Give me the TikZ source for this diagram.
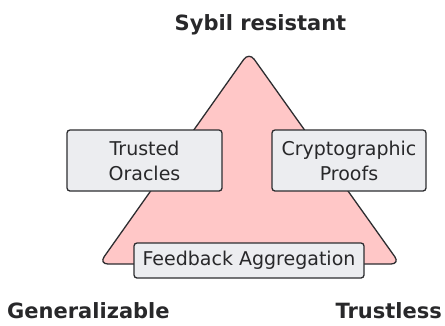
\documentclass[tikz,border=0pt]{standalone}
\usepackage{fontspec}
\setmainfont{DejaVu Sans}
\definecolor{tripink}{RGB}{255,199,199}
\definecolor{boxfill}{RGB}{236,237,240}
\definecolor{edge}{RGB}{45,45,48}
\definecolor{ink}{RGB}{40,40,42}
\begin{document}
\begin{tikzpicture}[x=1pt,y=-1pt,
  box/.style={draw=edge,fill=boxfill,line width=1.3pt,rounded corners=3pt,
    text=ink,font=\fontsize{19}{25}\selectfont,align=center,inner sep=0pt},
  corner/.style={font=\bfseries\fontsize{21}{25}\selectfont,text=ink,inner sep=0pt}]
\useasboundingbox (0,0) rectangle (445,325);
\draw[fill=tripink,draw=edge,line width=1.3pt,rounded corners=9pt]
  (249,52) -- (400,264) -- (99,264) -- cycle;
\node[box,minimum width=155pt,minimum height=61pt] (oracles) at (144.5,160.5) {Trusted\\Oracles};
\node[box,minimum width=154pt,minimum height=61pt] (proofs) at (349,160.5) {Cryptographic\\Proofs};
\node[box,minimum width=230pt,minimum height=35pt] (feedback) at (249,260.5) {Feedback Aggregation};
\node[corner,anchor=base] (sybil) at (260.5,30) {Sybil resistant};
\node[corner,anchor=base west] (general) at (7,318) {Generalizable};
\node[corner,anchor=base east] (trustless) at (442,318) {Trustless};
\end{tikzpicture}
\end{document}
